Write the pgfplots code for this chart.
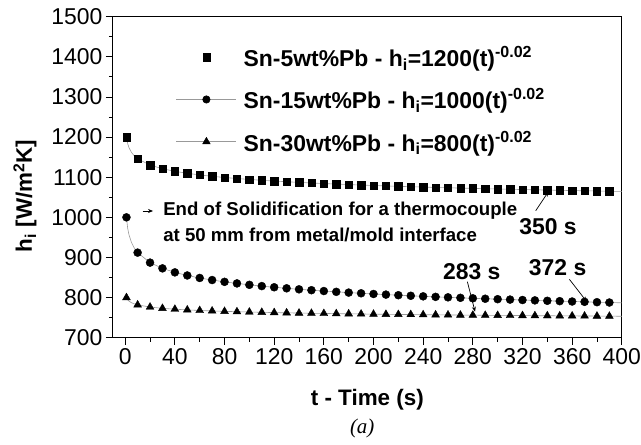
\documentclass[border=0pt]{standalone}
\usepackage{fontspec}
\setmainfont{Liberation Sans}
\newfontfamily\seriffont{Liberation Serif}
\usepackage{pgfplots}
\usepackage{pgfplotstable}
\pgfplotsset{compat=1.18}
\usetikzlibrary{arrows.meta}

\pgfplotstableread{
t a b c
1 1200 1000 800
2 1183.5 972.7 794.5
3 1173.9 957.0 791.3
5 1162.0 937.7 787.2
7 1154.2 925.1 784.6
10 1146.0 912.0 781.8
20 1130.2 887.1 776.4
30 1121.1 872.8 773.2
40 1114.7 862.8 771.0
50 1109.7 855.1 769.3
60 1105.7 848.9 767.9
70 1102.2 843.7 766.7
80 1099.3 839.2 765.7
90 1096.7 835.3 764.8
100 1094.4 831.8 764.0
110 1092.3 828.6 763.3
120 1090.4 825.7 762.6
130 1088.7 823.1 762.0
140 1087.1 820.6 761.4
150 1085.6 818.4 760.9
160 1084.2 816.3 760.4
170 1082.9 814.3 760.0
180 1081.6 812.4 759.5
190 1080.5 810.7 759.1
200 1079.3 809.0 758.7
210 1078.3 807.4 758.3
220 1077.3 805.9 758.0
230 1076.3 804.5 757.7
240 1075.4 803.1 757.3
250 1074.5 801.8 757.0
260 1073.7 800.6 756.7
270 1072.9 799.4 756.4
280 1072.1 798.2 756.2
290 1071.4 797.1 755.9
300 1070.6 796.0 755.6
310 1069.9 795.0 755.4
320 1069.2 793.9 755.2
330 1068.6 793.0 754.9
340 1067.9 792.0 754.7
350 1067.3 791.1 754.5
360 1066.7 790.2 754.3
370 1066.1 789.4 754.1
380 1065.6 788.5 753.9
390 1065.0 787.7 753.7
400 1064.5 786.9 753.5
}\datatable

\begin{document}
\begin{tikzpicture}
\path[use as bounding box] (-112.8bp,-107.3bp) rectangle (528.2bp,337.7bp);
\begin{axis}[
  scale only axis, width=509bp, height=321bp,
  at={(0,0)}, anchor=south west,
  xmin=-10, xmax=400, ymin=700, ymax=1500,
  xtick={0,40,...,400}, ytick={700,800,...,1500},
  minor x tick num=1, minor y tick num=1,
  tick align=outside, xtick pos=left, ytick pos=left,
  major tick length=7bp, minor tick length=4bp,
  tick style={black, line width=0.8bp},
  axis line style={black, line width=0.9bp},
  ticklabel style={font=\fontsize{23}{25}\selectfont},
  /pgf/number format/assume math mode=true,
  /pgf/number format/1000 sep={},
  xlabel={\textbf{t - Time (s)}},
  ylabel={\textbf{h\textsubscript{i} [W/m\textsuperscript{2}K]}},
  label style={font=\fontsize{22.5}{24}\selectfont},
  xlabel style={at={(axis description cs:0.5,-0.194)}, anchor=center},
  ylabel style={at={(axis description cs:-0.1725,0.442)}, anchor=center},
  clip=false,
  legend image code/.code={\draw[mark repeat=2,mark phase=2,#1] plot coordinates {(0bp,0bp) (30bp,0bp) (60bp,0bp)};},
  legend style={at={(axis description cs:0.124,0.908)}, anchor=north west,
    draw=none, fill=none, inner sep=0pt, row sep=20.5bp, column sep=7bp,
    font=\bfseries\fontsize{23}{25}\selectfont,
    nodes={inner sep=0pt}},
  legend cell align=left,
]
% fitted curves (thin gray lines)
\addplot[gray!80, line width=0.6bp, forget plot] table[x=t, y=a] {\datatable};
\addplot[gray!80, line width=0.6bp, forget plot] table[x=t, y=b] {\datatable};
\addplot[gray!80, line width=0.6bp, forget plot] table[x=t, y=c] {\datatable};
% markers
\addplot[only marks, mark=square*, mark size=3.7bp, black, forget plot,
  skip coords between index={1}{5}, skip coords between index={44}{45}] table[x=t, y=a] {\datatable};
\addplot[only marks, mark=*, mark size=4bp, black, forget plot,
  skip coords between index={1}{5}, skip coords between index={44}{45}] table[x=t, y=b] {\datatable};
\addplot[only marks, mark=triangle*, mark size=4.5bp, black, forget plot,
  skip coords between index={1}{5}, skip coords between index={44}{45}] table[x=t, y=c] {\datatable};
% legend
\addlegendimage{only marks, mark=square*, mark size=3.7bp, black}
\addlegendentry{Sn-5wt\%Pb - h\textsubscript{i}=1200(t)\textsuperscript{-0.02}}
\addlegendimage{gray!80, line width=0.6bp, mark=*, mark size=3.7bp, mark options={black, fill=black}}
\addlegendentry{Sn-15wt\%Pb - h\textsubscript{i}=1000(t)\textsuperscript{-0.02}}
\addlegendimage{gray!80, line width=0.6bp, mark=triangle*, mark size=4.2bp, mark options={black, fill=black}}
\addlegendentry{Sn-30wt\%Pb - h\textsubscript{i}=800(t)\textsuperscript{-0.02}}
% annotations
\draw[-{Stealth[length=5bp,width=4bp]}, line width=0.7bp] (axis cs:14.1,1015.8) -- (axis cs:22.4,1015.8);
\node[anchor=west, inner sep=0pt, font=\bfseries\fontsize{18.7}{20}\selectfont] at (axis cs:30.5,1015.8) {End of Solidification for a thermocouple};
\node[anchor=west, inner sep=0pt, font=\bfseries\fontsize{18.7}{20}\selectfont] at (axis cs:30.5,956.1) {at 50 mm from metal/mold interface};
\node[inner sep=0pt, font=\bfseries\fontsize{23}{25}\selectfont] at (axis cs:340.6,976.6) {350 s};
\draw[-{Stealth[length=5bp,width=4bp]}, line width=0.7bp] (axis cs:330.7,1016.5) -- (axis cs:340.9,1063.9);
\node[inner sep=0pt, font=\bfseries\fontsize{23}{25}\selectfont] at (axis cs:279.2,864.5) {283 s};
\draw[-{Stealth[length=5bp,width=4bp]}, line width=0.7bp] (axis cs:275.6,839.6) -- (axis cs:281.8,764.8);
\node[inner sep=0pt, font=\bfseries\fontsize{23}{25}\selectfont] at (axis cs:348.3,875.5) {372 s};
\draw[-{Stealth[length=5bp,width=4bp]}, line width=0.7bp] (axis cs:357.8,845.5) -- (axis cs:371.8,789.7);
\node[font=\seriffont\itshape\fontsize{21}{23}\selectfont] at (axis description cs:0.49,-0.283) {(a)};
\end{axis}
\end{tikzpicture}
\end{document}
